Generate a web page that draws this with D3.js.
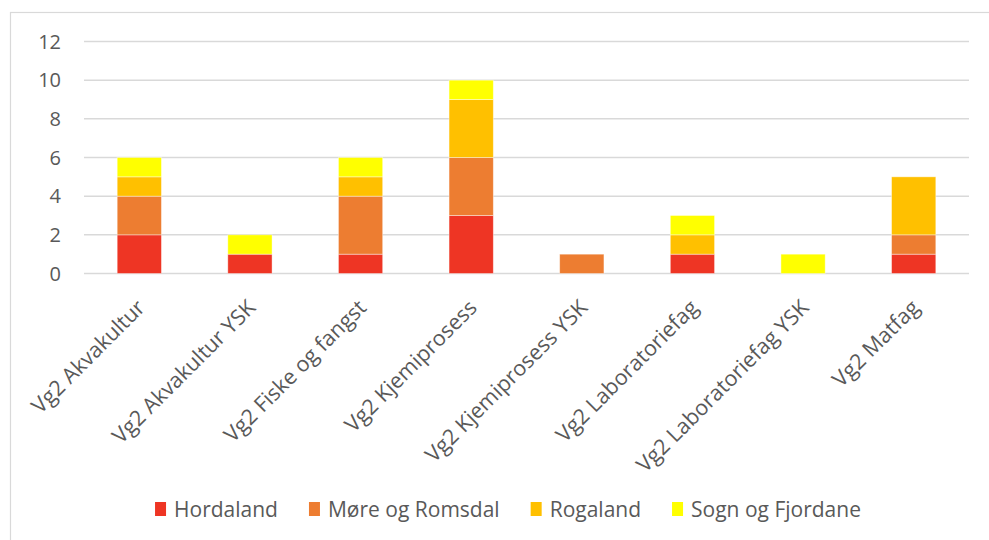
<!DOCTYPE html>
<html>
<head>
<meta charset="utf-8">
<script src="https://cdn.jsdelivr.net/npm/d3@7"></script>
<style>
  html, body { margin: 0; padding: 0; background: #fff; }
  svg { display: block; font-family: 'Open Sans', sans-serif; }
</style>
</head>
<body>
<svg width="989" height="540"></svg>
<script>
  const categories = ['Vg2 Akvakultur', 'Vg2 Akvakultur YSK', 'Vg2 Fiske og fangst', 'Vg2 Kjemiprosess',
    'Vg2 Kjemiprosess YSK', 'Vg2 Laboratoriefag', 'Vg2 Laboratoriefag YSK', 'Vg2 Matfag']
  const seriesNames = ['Hordaland', 'Møre og Romsdal', 'Rogaland', 'Sogn og Fjordane']
  const hordaland = [2, 1, 1, 3, 0, 1, 0, 1]
  const moreRomsdal = [2, 0, 3, 3, 1, 0, 0, 1]
  const rogaland = [1, 0, 1, 3, 0, 1, 0, 3]
  const sognFjordane = [1, 1, 1, 1, 0, 1, 1, 0]
  const yTicks = [0, 2, 4, 6, 8, 10, 12]
  const colors = ['#EE3524', '#ED7D31', '#FFC000', '#FFFF00']

  const svg = d3.select('svg')
  const height = 540
  const margin = { top: 41.5, right: 20, bottom: 266.5, left: 84 }

  const rows = categories.map((c, i) => ({
    cat: c,
    [seriesNames[0]]: hordaland[i],
    [seriesNames[1]]: moreRomsdal[i],
    [seriesNames[2]]: rogaland[i],
    [seriesNames[3]]: sognFjordane[i]
  }))
  const stacked = d3.stack().keys(seriesNames)(rows)

  // chart area border (only top/left visible)
  svg.append('rect').
    attr('x', 10.5).attr('y', 12.5).
    attr('width', 1100).attr('height', 700).
    attr('fill', 'none').attr('stroke', '#d9d9d9').attr('stroke-width', 1.2)

  const x = d3.scaleBand().
    domain(categories).
    range([margin.left, 969]).
    paddingInner(0.6).paddingOuter(0.3)

  const y = d3.scaleLinear().
    domain([0, 12]).
    range([height - margin.bottom, margin.top])

  svg.append('g').selectAll('line').data(yTicks).
    enter().append('line').
    attr('x1', margin.left).attr('x2', 969).
    attr('y1', d => y(d)).attr('y2', d => y(d)).
    attr('stroke', '#d9d9d9').attr('stroke-width', 1.5)

  svg.append('g').selectAll('text').data(yTicks).
    enter().append('text').
    attr('x', 61).attr('y', d => y(d)).
    attr('dy', '0.36em').
    attr('text-anchor', 'end').
    attr('font-size', 20).attr('fill', '#595959').
    text(d => d)

  const layers = svg.append('g').selectAll('g').data(stacked).
    enter().append('g').
    attr('fill', (d, i) => colors[i])

  layers.selectAll('rect').data(d => d.filter(p => p[1] > p[0])).
    enter().append('rect').
    attr('x', d => x(d.data.cat)).
    attr('width', x.bandwidth()).
    attr('y', d => y(d[1])).
    attr('height', d => y(d[0]) - y(d[1])).
    attr('stroke', '#fff').attr('stroke-opacity', 0.5).attr('stroke-width', 0.8)

  // rotated category labels
  svg.append('g').selectAll('text').data(categories).
    enter().append('text').
    attr('transform', d => `translate(${x(d) + x.bandwidth() / 2 + 7},309) rotate(-45)`).
    attr('text-anchor', 'end').
    attr('font-size', 21.5).attr('fill', '#595959').
    text(d => d)

  // legend
  const items = svg.append('g').selectAll('g').data(seriesNames).
    enter().append('g')
  items.append('rect').
    attr('width', 11).attr('height', 14).
    attr('y', 502).
    attr('fill', (d, i) => colors[i])
  items.append('text').
    attr('x', 19).attr('y', 509).
    attr('dy', '0.36em').
    attr('font-size', 21).attr('fill', '#595959').
    text(d => d)

  const widths = []
  items.each(function () { widths.push(this.getBBox().width) })
  const gap = 31
  const total = d3.sum(widths) + gap * (widths.length - 1)
  let cursor = 508 - total / 2
  items.attr('transform', (d, i) => {
    const t = `translate(${cursor},0)`
    cursor += widths[i] + gap
    return t
  })
</script>
</body>
</html>
